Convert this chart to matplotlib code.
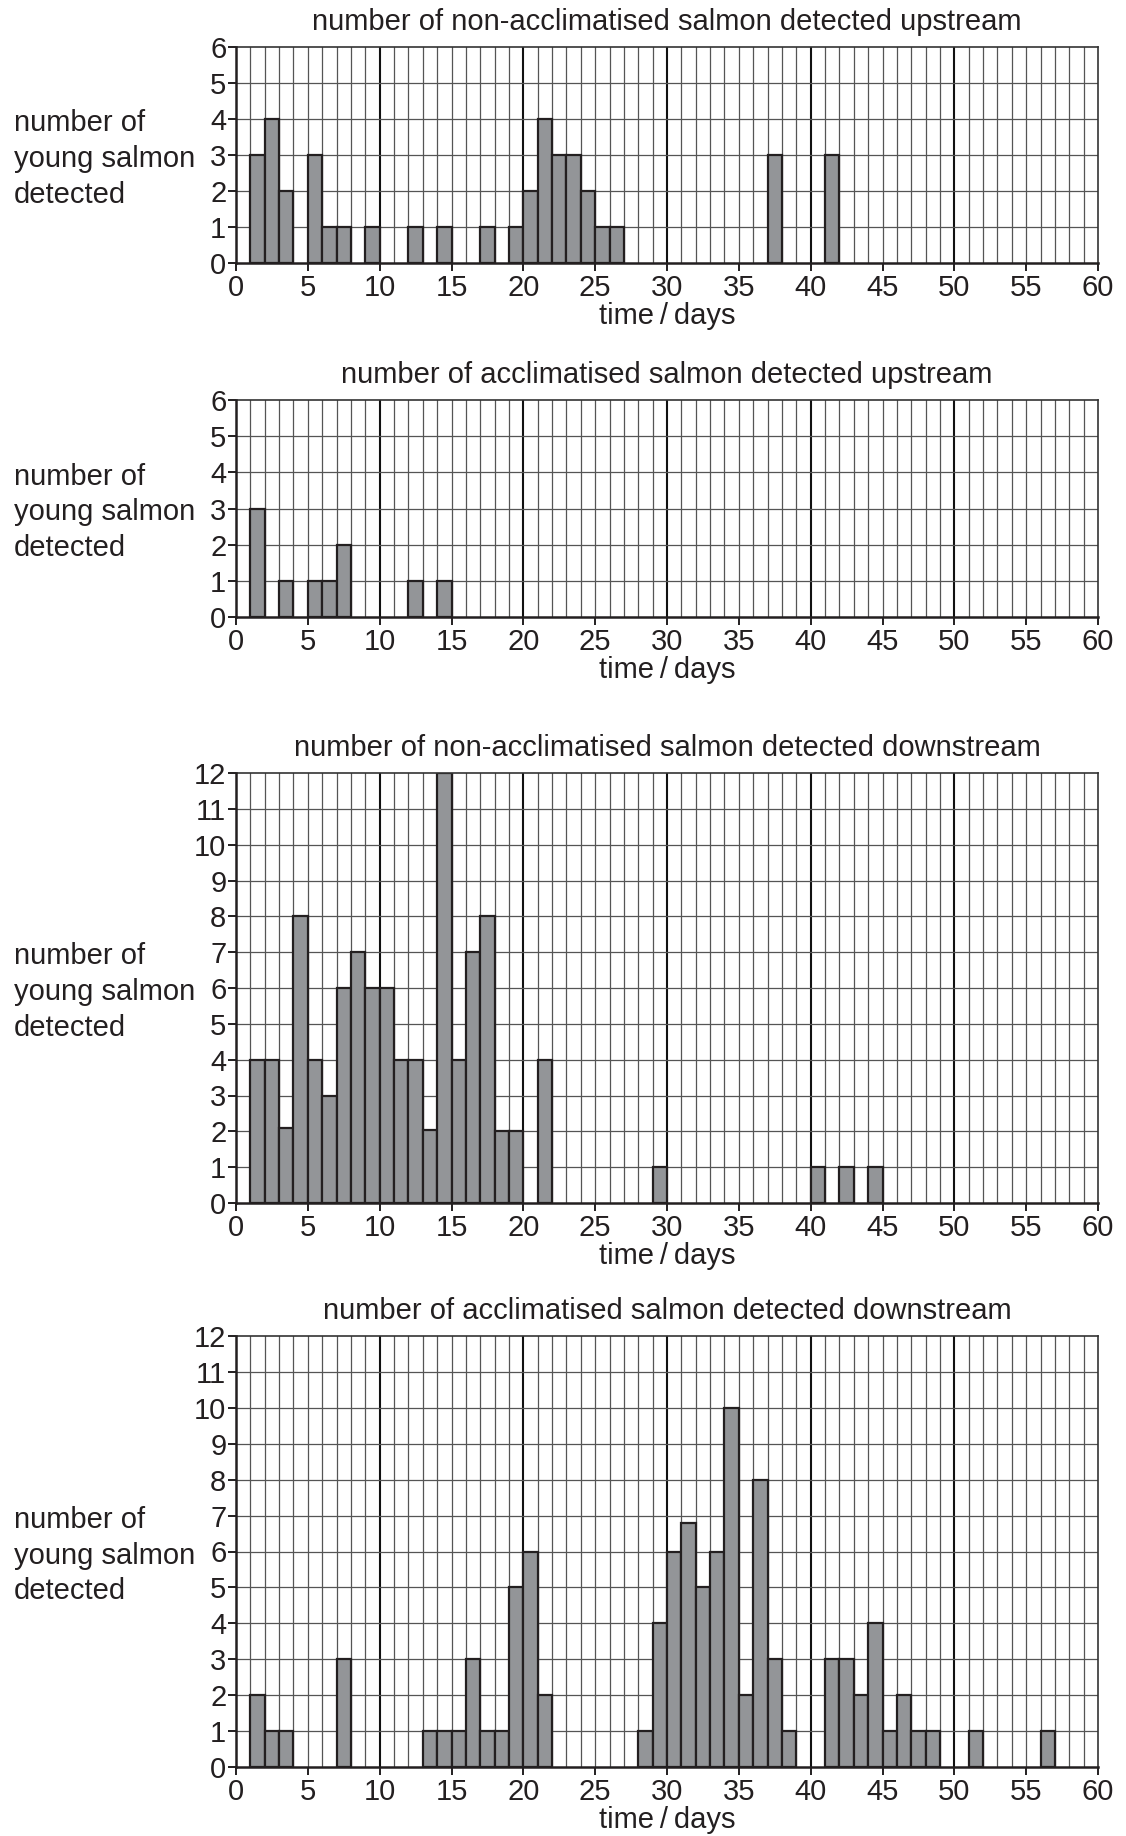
import matplotlib.pyplot as plt
from matplotlib.ticker import MultipleLocator

plt.rcParams['font.family'] = ['Liberation Sans', 'DejaVu Sans']

TXT = '#231f20'
BAR = '#939598'

titles = ['number of non-acclimatised salmon detected upstream',
          'number of acclimatised salmon detected upstream',
          'number of non-acclimatised salmon detected downstream',
          'number of acclimatised salmon detected downstream']

# day on which each bar starts, and the number of fish seen that day
days_non_up = [1, 2, 3, 5, 6, 7, 9, 12, 14, 17, 19, 20, 21, 22, 23, 24, 25, 26, 37, 41]
count_non_up = [3, 4, 2, 3, 1, 1, 1, 1, 1, 1, 1, 2, 4, 3, 3, 2, 1, 1, 3, 3]

days_acc_up = [1, 3, 5, 6, 7, 12, 14]
count_acc_up = [3, 1, 1, 1, 2, 1, 1]

days_non_down = [1, 2, 3, 4, 5, 6, 7, 8, 9, 10, 11, 12, 13, 14, 15, 16, 17, 18, 19,
                 21, 29, 40, 42, 44]
count_non_down = [4, 4, 2.1, 8, 4, 3, 6, 7, 6, 6, 4, 4, 2.05, 12, 4, 7, 8, 2, 2,
                  4, 1, 1, 1, 1]

days_acc_down = [1, 2, 3, 7, 13, 14, 15, 16, 17, 18, 19, 20, 21,
                 28, 29, 30, 31, 32, 33, 34, 35, 36, 37, 38,
                 41, 42, 43, 44, 45, 46, 47, 48, 51, 56]
count_acc_down = [2, 1, 1, 3, 1, 1, 1, 3, 1, 1, 5, 6, 2,
                  1, 4, 6, 6.8, 5, 6, 10, 2, 8, 3, 1,
                  3, 3, 2, 4, 1, 2, 1, 1, 1, 1]

panels = [(days_non_up, count_non_up, 6),
          (days_acc_up, count_acc_up, 6),
          (days_non_down, count_non_down, 12),
          (days_acc_down, count_acc_down, 12)]

W, H = 1126, 1836
FS = 21
# axes boxes in pixels: top, bottom
boxes = [(47, 263), (400, 617), (773, 1203), (1336, 1767)]
x0, x1 = 236, 1098

fig = plt.figure(figsize=(W / 100, H / 100), dpi=100)

for (days, counts, ymax), (top, bot), title in zip(panels, boxes, titles):
    ax = fig.add_axes([x0 / W, 1 - bot / H, (x1 - x0) / W, (bot - top) / H])
    ax.set_xlim(0, 60)
    ax.set_ylim(0, ymax)

    # graph-paper grid
    for i in range(1, 60):
        if i % 10 == 0:
            ax.axvline(i, color='#111111', lw=1.5, zorder=1)
        else:
            ax.axvline(i, color='#555555', lw=0.9, zorder=1)
    for j in range(1, ymax):
        ax.axhline(j, color='#555555', lw=0.9, zorder=1)

    ax.bar(days, counts, width=1, align='edge', color=BAR, edgecolor=TXT,
           linewidth=1.6, zorder=2)

    ax.xaxis.set_major_locator(MultipleLocator(5))
    ax.yaxis.set_major_locator(MultipleLocator(1))
    ax.tick_params(direction='out', length=6, width=1.4, colors=TXT,
                   labelsize=FS, pad=1)
    ax.tick_params(axis='x', pad=2)
    for s in ['left', 'bottom']:
        ax.spines[s].set_linewidth(1.8)
        ax.spines[s].set_color(TXT)
        ax.spines[s].set_zorder(3)
    for s in ['top', 'right']:
        ax.spines[s].set_linewidth(1.2)
        ax.spines[s].set_color('#333333')

    fig.text(667 / W, 1 - (top - 25) / H, title, ha='center', va='center',
             fontsize=FS, color=TXT)
    fig.text(667 / W, 1 - (bot + 53) / H, 'time\u2009/\u2009days', ha='center',
             va='center', fontsize=FS, color=TXT)
    fig.text(14 / W, 1 - ((top + bot) / 2 + 4) / H,
             'number of\nyoung salmon\ndetected', ha='left', va='center',
             fontsize=FS, color=TXT, linespacing=1.35)

fig.savefig('out.png', dpi=100)
